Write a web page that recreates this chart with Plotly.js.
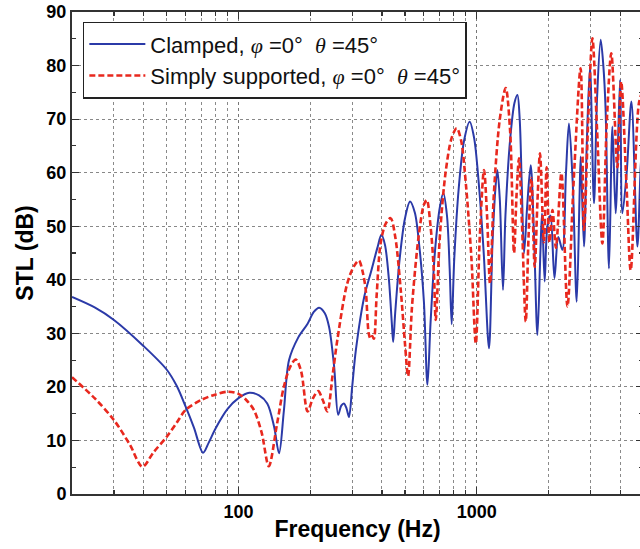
<!DOCTYPE html>
<html>
<head>
<meta charset="utf-8">
<script src="https://cdn.plot.ly/plotly-3.0.1.min.js"></script>
<style>
html,body{margin:0;padding:0;overflow:hidden;background:#fff;}
#chart{width:643px;height:549px;}
</style>
</head>
<body>
<div id="chart"></div>
<script>
// Clamped, phi=0 theta=45
const clampedFreq = [20,25,30,40,50,55,60,65,71,75,80,90,100,111,122,132,141,148,155,163,178,195,207,218,230,240,252,262,270,277,284,291,300,311,337,360,383,398,412,428,440,446,455,475,500,525,550,575,600,621,640,670,700,724,750,770,785,805,840,885,934,975,1020,1070,1126,1165,1200,1221,1250,1289,1320,1380,1440,1482,1515,1545,1580,1630,1685,1740,1798,1850,1880,1928,1980,2040,2120,2200,2289,2370,2439,2530,2628,2700,2732,2820,2900,2989,3106,3200,3314,3400,3474,3591,3711,3831,3995,4087,4261,4461,4726,4878,5000];
const clampedSTL  = [36.8,34.8,32.5,27.6,23.2,20.2,16.3,12.4,7.7,9.6,12.2,15.9,17.9,18.9,18.4,16.9,12.6,7.6,15.5,25.0,29.2,31.8,34.0,34.8,33.8,31.2,23.8,14.8,16.5,16.9,16.0,14.4,20.0,26.9,36.8,41.5,46.0,48.4,46.5,40,32,28.4,34,44,51.5,54.6,52.5,46,36,20.4,32,46,53.5,56.2,52,42,31.7,44,57,66,69.5,66.5,58,45,27.2,47,57.5,60.5,55,38.1,52,66,73,74.5,70,58,45,54,61.4,48,29.7,45,52.4,39.7,50,52,40.3,48,45.6,60,69.2,58,35.9,55,63,46.2,66,79.8,54.3,74,84.8,80,72,42.1,68.6,52.4,77.3,52.4,60,73.3,46.2,61,68];

// Simply supported, phi=0 theta=45
const simpleFreq = [20,25,30,35,39.5,44,50,55,60,70,79,90,100,108,116,125,134,145,155,165,174,183,195,205,216,226,236,248,260,286,305,320,332,342,352,358,364,370,380,395,415,435,455,480,500,515,535,570,600,617,640,660,673,700,740,785,824,860,900,950,991,1030,1073,1105,1137,1180,1250,1323,1380,1434,1470,1505,1550,1606,1650,1696,1751,1800,1843,1915,1965,2020,2080,2150,2267,2403,2550,2729,2820,2950,3059,3200,3369,3520,3673,3895,4040,4250,4430,4797,4950];
const simpleSTL  = [21.8,17.8,13.8,9.2,5.1,7.8,10.7,13.3,15.7,17.6,18.5,19.1,18.7,17.5,15.7,11.5,5.2,13,20.0,23.8,25.1,23,15.4,17.8,19.2,17.5,15.4,22,28.8,39.3,42.5,43.6,41.5,38.1,30,29.0,29.5,29.0,37,46.8,50.5,51.5,48,38,28,22.0,35,48,54,54.9,50,42,32.5,48,60,66.5,68.3,66,58,44,28.1,48,60.5,52,39.3,56,70,75.8,68,45.0,56,62.7,50,32.2,48,59,42.4,55,63.6,47,61,47,53,46,59.9,35.0,58,79.5,49.3,72,85.1,68,46.8,70,82.3,61,77,58,41.8,73,75];

const phi = "<span style='font-family:\"Liberation Serif\"'><i>φ</i></span>";
const theta = "<span style='font-family:\"Liberation Serif\"'><i>θ</i></span>";
const legendClamped = "Clamped, " + phi + " =0°  " + theta + " =45°";
const legendSimple = "Simply supported, " + phi + " =0°  " + theta + " =45°";

const traces = [
  {x: clampedFreq, y: clampedSTL, type:'scatter', mode:'lines', name: legendClamped,
   line:{color:'#2b3aa8', width:2, shape:'spline', smoothing:0.9}},
  {x: simpleFreq, y: simpleSTL, type:'scatter', mode:'lines', name: legendSimple,
   line:{color:'#e8281e', width:2.6, dash:'6px,3px', shape:'spline', smoothing:0.9}}
];

const layout = {
  width:643, height:549,
  margin:{l:72, r:0, t:12, b:55},
  paper_bgcolor:'#fff', plot_bgcolor:'#fff',
  font:{family:'Liberation Sans, Arial, sans-serif', color:'#000'},
  showlegend:true,
  legend:{x:0.019, y:0.98, xanchor:'left', yanchor:'top', bgcolor:'#fff',
          bordercolor:'#222', borderwidth:1.5, font:{size:22, color:'#111'},
          tracegroupgap:0, itemwidth:56},
  xaxis:{type:'log', range:[Math.log10(20), 3.698], dtick:1,
         tickvals:[100,1000], ticktext:['100','1000'],
         ticks:'inside', ticklen:7, tickwidth:1.2, tickcolor:'#333',
         showline:true, linecolor:'#333', linewidth:2, mirror:'ticks',
         showgrid:true, gridcolor:'#777', griddash:'dot', gridwidth:1,
         tickfont:{size:18, color:'#000', family:'Liberation Sans, Arial', weight:'bold'},
         title:{text:'<b>Frequency (Hz)</b>', font:{size:23, color:'#000'}, standoff:0},
         minor:{ticks:'inside', ticklen:4, tickcolor:'#333', showgrid:true, gridcolor:'#8a8a8a', gridwidth:1, dtick:'D1'},
         zeroline:false},
  yaxis:{range:[0,90], dtick:10, tick0:0,
         ticks:'inside', ticklen:7, tickwidth:1.2, tickcolor:'#333',
         showline:true, linecolor:'#333', linewidth:2, mirror:'ticks',
         showgrid:true, gridcolor:'#888', griddash:'dot', gridwidth:1,
         tickfont:{size:18, color:'#000', family:'Liberation Sans, Arial', weight:'bold'},
         title:{text:'<b>STL (dB)</b>', font:{size:23, color:'#000'}, standoff:6},
         minor:{ticks:'inside', ticklen:4, tickcolor:'#333', dtick:5},
         zeroline:false}
};

Plotly.newPlot('chart', traces, layout, {displayModeBar:false, staticPlot:true});
</script>
</body>
</html>
